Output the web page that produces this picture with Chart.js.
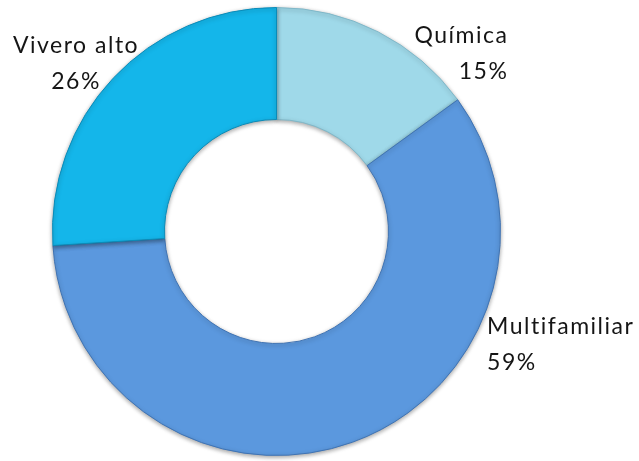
<!DOCTYPE html>
<html>
<head>
<meta charset="utf-8">
<script src="https://cdn.jsdelivr.net/npm/chart.js@4.4.1/dist/chart.umd.min.js"></script>
<style>
  html, body { margin: 0; padding: 0; background: #ffffff; }
  #wrap { width: 639px; height: 461px; position: relative; }
</style>
</head>
<body>
<div id="wrap"><canvas id="c"></canvas></div>
<script>
// Share of each activity
const categories = ['Química', 'Multifamiliar', 'Vivero alto'];
const shares = [15, 59, 26];
const sliceColors = ['#9fd9e9', '#5b98de', '#14b6ea'];
const edgeColors = ['#7fb7c8', '#3f73b3', '#0a8bb8'];

// Label anchors, expressed relative to the ring centre in units of outer radius
const labelAnchorX = [1.035, 0.94, -0.895];
const labelAnchorY = [-0.875, 0.425, -0.83];
const labelAlign = ['right', 'left', 'center'];

const ringShadow = {
  id: 'ringShadow',
  beforeDatasetsDraw(chart) {
    const ctx = chart.ctx;
    ctx.save();
    ctx.shadowColor = 'rgba(0,0,0,0.35)';
    ctx.shadowBlur = 4;
    ctx.shadowOffsetX = 0;
    ctx.shadowOffsetY = 1.5;
  },
  afterDatasetsDraw(chart) {
    chart.ctx.restore();
  }
};

const sliceLabels = {
  id: 'sliceLabels',
  afterDraw(chart) {
    const ctx = chart.ctx;
    const meta = chart.getDatasetMeta(0);
    const arc0 = meta.data[0];
    const cx = arc0.x, cy = arc0.y, R = arc0.outerRadius;
    const values = chart.data.datasets[0].data;
    const total = values.reduce((a, b) => a + b, 0);
    ctx.save();
    ctx.fillStyle = '#151515';
    ctx.font = '23px Lato, "Open Sans", sans-serif';
    ctx.letterSpacing = '1.5px';
    ctx.textBaseline = 'middle';
    chart.data.labels.forEach((name, i) => {
      const x = cx + labelAnchorX[i] * R;
      const y = cy + labelAnchorY[i] * R;
      ctx.textAlign = labelAlign[i];
      const pct = Math.round(values[i] / total * 100) + '%';
      ctx.fillText(name, x, y);
      ctx.fillText(pct, x, y + 36);
    });
    ctx.restore();
  }
};

new Chart(document.getElementById('c'), {
  type: 'doughnut',
  data: {
    labels: categories,
    datasets: [{
      data: shares,
      backgroundColor: sliceColors,
      borderColor: edgeColors,
      borderWidth: 1,
      borderJoinStyle: 'miter'
    }]
  },
  options: {
    responsive: true,
    maintainAspectRatio: false,
    animation: false,
    cutout: '50%',
    rotation: 0,
    layout: { padding: { top: 7, bottom: 5, left: 52, right: 138 } },
    plugins: {
      legend: { display: false },
      tooltip: { enabled: false }
    }
  },
  plugins: [ringShadow, sliceLabels]
});
</script>
</body>
</html>
